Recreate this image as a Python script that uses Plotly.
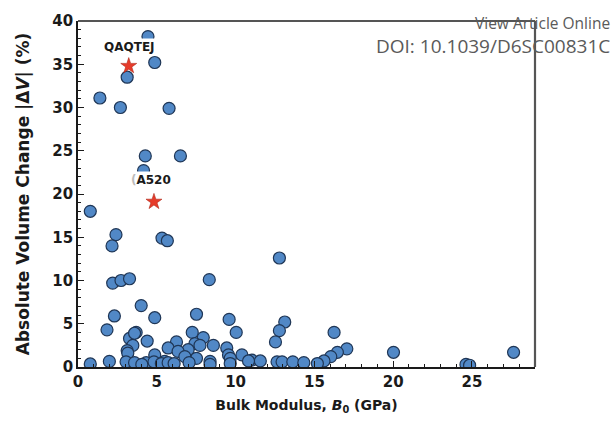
import plotly.graph_objects as go

# Bulk modulus B0 (GPa) and absolute volume change |dV| (%)
bulk_modulus = [
    4.44, 4.87, 3.12, 1.39, 2.69, 5.78, 4.27, 6.50, 4.16, 0.78,
    2.41, 2.16, 5.33, 5.67, 12.78, 2.20, 2.73, 3.27, 8.33, 4.01,
    2.31, 4.87, 7.52, 9.59, 10.04, 1.84, 13.12, 12.78, 12.53, 16.25,
    17.06, 16.46, 16.04, 15.61, 20.02, 27.64, 24.62, 24.85,
    3.69, 3.27, 3.48, 4.39, 3.12, 3.59, 3.16, 7.25, 7.95, 6.25,
    5.72, 7.42, 7.74, 8.59, 6.99, 6.35, 9.44, 4.87, 7.52, 6.78,
    10.40, 9.55, 5.50, 8.38, 9.66,
    0.78, 1.99, 3.05, 3.59, 4.33, 4.82, 5.29, 5.72, 8.38, 9.66,
    11.03, 11.57, 12.63, 12.95, 13.63, 14.33, 15.19, 10.82, 4.05, 6.10, 7.05,
]
volume_change = [
    38.2, 35.2, 33.5, 31.1, 30.0, 29.9, 24.4, 24.4, 22.7, 18.0,
    15.3, 14.0, 14.9, 14.6, 12.6, 9.7, 10.0, 10.2, 10.1, 7.1,
    5.9, 5.7, 6.1, 5.5, 4.0, 4.3, 5.2, 4.2, 2.9, 4.0,
    2.1, 1.7, 1.2, 0.7, 1.7, 1.7, 0.3, 0.2,
    4.0, 3.3, 2.5, 3.0, 1.9, 3.9, 1.6, 4.0, 3.4, 2.9,
    2.2, 2.7, 2.5, 2.5, 2.0, 1.8, 2.2, 1.4, 1.0, 1.2,
    1.4, 1.4, 0.65, 0.65, 1.0,
    0.35, 0.65, 0.6, 0.5, 0.5, 0.6, 0.4, 0.5, 0.3, 0.4,
    0.8, 0.7, 0.6, 0.6, 0.6, 0.5, 0.4, 0.7, 0.3, 0.4, 0.5,
]

# Highlighted structures
highlight_names = ["QAQTEJ", "A520"]
highlight_x = [3.22, 4.82]
highlight_y = [34.8, 19.1]
label_x = [3.27, 4.65]
label_y = [37.0, 21.6]

x_ticks = [0, 5, 10, 15, 20, 25]
y_ticks = [0, 5, 10, 15, 20, 25, 30, 35, 40]

fig = go.Figure()
fig.add_trace(go.Scatter(
    x=bulk_modulus, y=volume_change, mode="markers",
    marker=dict(size=12, color="#5188c6", line=dict(color="#1f3656", width=1.2)),
    showlegend=False,
))
fig.add_trace(go.Scatter(
    x=highlight_x, y=highlight_y, mode="markers",
    marker=dict(symbol="star", size=12, color="#e63b2a", line=dict(color="#b0281a", width=0.6)),
    showlegend=False,
))

label_texts = ["QAQTEJ", "<span style='color:#bbbbbb'>(</span>A520"]
for lx, ly, txt in zip(label_x, label_y, label_texts):
    fig.add_annotation(
        x=lx, y=ly, text=txt, showarrow=False,
        font=dict(family="DejaVu Sans", size=12, color="#1a1a1a", weight="bold"),
        bgcolor="white", borderpad=1,
    )

# Watermark text at the top right of the page
fig.add_annotation(
    xref="paper", yref="paper", x=1.1685, y=0.993, xanchor="right", yanchor="middle",
    text="View Article Online", showarrow=False,
    font=dict(family="Open Sans", size=15.5, color="#5a5a5a"),
)
fig.add_annotation(
    xref="paper", yref="paper", x=1.1685, y=0.927, xanchor="right", yanchor="middle",
    text="DOI: 10.1039/D6SC00831C", showarrow=False,
    font=dict(family="Open Sans", size=19, color="#5a5a5a"),
)

fig.update_layout(
    width=614, height=423,
    margin=dict(l=78, r=79, t=19, b=54),
    plot_bgcolor="white", paper_bgcolor="white",
    font=dict(family="DejaVu Sans", color="#1a1a1a"),
    xaxis=dict(
        range=[0, 29.0], tickmode="array", tickvals=x_ticks,
        ticks="inside", ticklen=6, tickwidth=1.3, tickcolor="#1a1a1a",
        minor=dict(dtick=1, ticks="inside", ticklen=3, tickcolor="#1a1a1a", tickwidth=1),
        showline=True, linecolor="#1a1a1a", linewidth=1.6,
        showgrid=False, zeroline=False,
        tickfont=dict(size=15, weight="bold", family="DejaVu Sans"),
        title=dict(text="Bulk Modulus, <i>B</i><sub>0</sub> (GPa)",
                   font=dict(size=14, weight="bold", family="DejaVu Sans"), standoff=10),
    ),
    yaxis=dict(
        range=[0, 40], tickmode="array", tickvals=y_ticks,
        ticks="inside", ticklen=6, tickwidth=1.3, tickcolor="#1a1a1a",
        minor=dict(dtick=1, ticks="inside", ticklen=3, tickcolor="#1a1a1a", tickwidth=1),
        showline=True, linecolor="#1a1a1a", linewidth=1.6,
        showgrid=False, zeroline=False,
        tickfont=dict(size=15, weight="bold", family="DejaVu Sans"),
        title=dict(text="Absolute Volume Change |Δ<i>V</i>| (%)",
                   font=dict(size=17, weight="bold", family="DejaVu Sans"), standoff=18),
    ),
    shapes=[
        dict(type="line", xref="paper", yref="paper", x0=0, x1=1, y0=1, y1=1,
             line=dict(color="#555555", width=2.2)),
        dict(type="line", xref="paper", yref="paper", x0=1, x1=1, y0=0, y1=1,
             line=dict(color="#555555", width=2.2)),
    ],
)

fig.write_html("out.html")
